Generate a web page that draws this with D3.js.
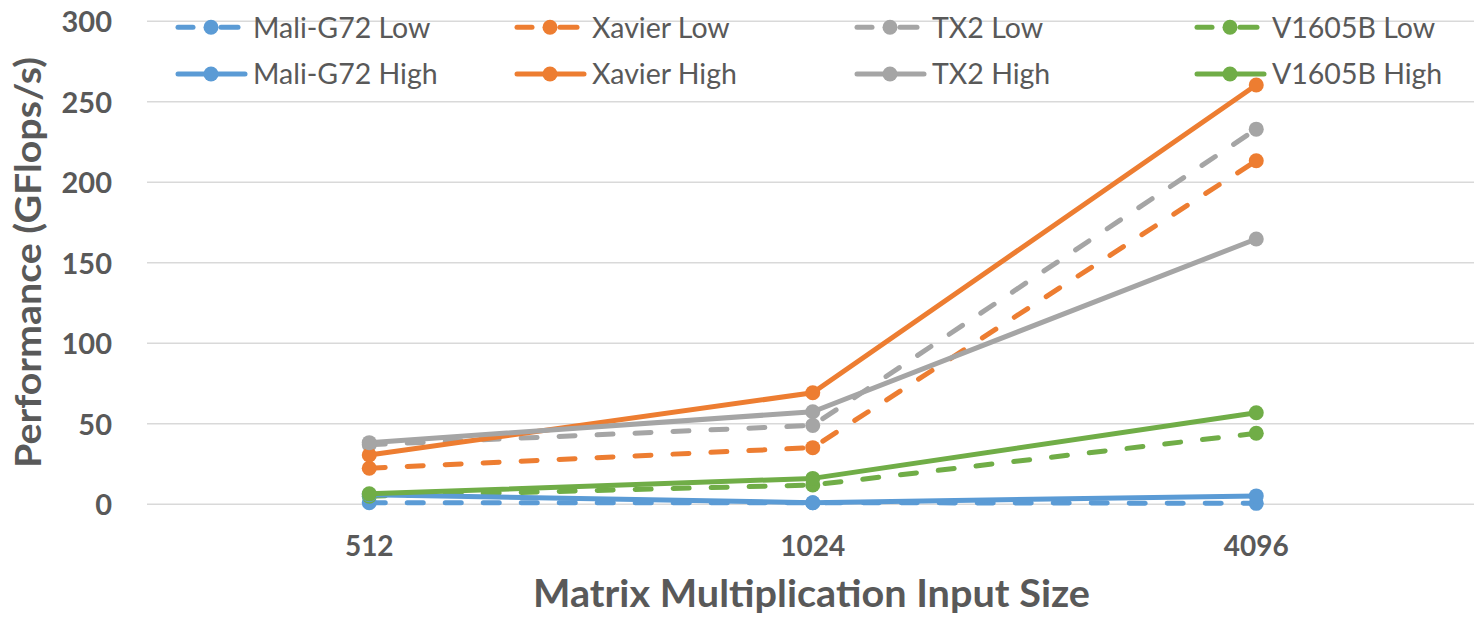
<!DOCTYPE html>
<html><head><meta charset="utf-8">
<script src="https://cdn.jsdelivr.net/npm/d3@7"></script>
<style>body{margin:0;background:#fff}svg{display:block}</style>
</head><body>
<svg id="c" width="1474" height="620"></svg>
<script>
const categories = ["512", "1024", "4096"];
const seriesNames = ["Mali-G72 Low","Xavier Low","TX2 Low","V1605B Low","Mali-G72 High","Xavier High","TX2 High","V1605B High"];
const maliLow = [1, 1, 0.6];
const xavierLow = [22.4, 35.2, 213.4];
const tx2Low = [37, 49, 233];
const v1605bLow = [5, 12, 44.1];
const maliHigh = [6, 1, 5.2];
const xavierHigh = [30.6, 69.3, 260.4];
const tx2High = [38.3, 57.5, 164.8];
const v1605bHigh = [6.5, 16.1, 56.9];
const yTicks = [0, 50, 100, 150, 200, 250, 300];
const colors = ["#5B9BD5","#ED7D31","#A5A5A5","#70AD47","#5B9BD5","#ED7D31","#A5A5A5","#70AD47"];
const dashed = [true,true,true,true,false,false,false,false];
const values = [maliLow, xavierLow, tx2Low, v1605bLow, maliHigh, xavierHigh, tx2High, v1605bHigh];

const svg = d3.select("#c");
const font = "Lato, 'Open Sans', sans-serif";
const x = d3.scaleBand().domain(categories).range([147.5, 1478]).padding(0);
const y = d3.scaleLinear().domain([0, 300]).range([504.3, 21.3]);

// gridlines
svg.append("g").selectAll("line").data(yTicks).join("line")
  .attr("x1", 147).attr("x2", 1474)
  .attr("y1", d => y(d)).attr("y2", d => y(d))
  .attr("stroke", "#d9d9d9").attr("stroke-width", 1.5);

// y tick labels
const yAxis = d3.axisLeft(y).tickValues(yTicks).tickSize(0).tickPadding(0);
const ya = svg.append("g").attr("transform", "translate(112,0)").call(yAxis);
ya.select(".domain").remove();
ya.selectAll("text").attr("font-family", font).attr("font-weight", "bold")
  .attr("font-size", 29).attr("fill", "#595959").attr("dy", "0.36em");

// x tick labels
const xAxis = d3.axisBottom(x).tickSize(0).tickPadding(0);
const xa = svg.append("g").attr("transform", "translate(0,556)").call(xAxis);
xa.select(".domain").remove();
xa.selectAll("text").attr("font-family", font).attr("font-weight", "bold")
  .attr("font-size", 28).attr("fill", "#595959").attr("dy", "0");

// axis titles
svg.append("text").attr("x", 811.5).attr("y", 607).attr("text-anchor", "middle")
  .attr("font-family", font).attr("font-weight", "bold").attr("font-size", 38)
  .attr("textLength", 557).attr("lengthAdjust", "spacingAndGlyphs")
  .attr("fill", "#595959").text("Matrix Multiplication Input Size");
svg.append("text").attr("transform", "translate(41,262.5) rotate(-90)").attr("text-anchor", "middle")
  .attr("font-family", font).attr("font-weight", "bold").attr("font-size", 36)
  .attr("textLength", 411).attr("lengthAdjust", "spacingAndGlyphs")
  .attr("fill", "#595959").text("Performance (GFlops/s)");

const line = d3.line().x((d, i) => x(categories[i]) + x.bandwidth() / 2).y(d => y(d));

values.forEach((vals, s) => {
  const g = svg.append("g");
  g.append("path").attr("d", line(vals)).attr("fill", "none")
    .attr("stroke", colors[s]).attr("stroke-width", 5)
    .attr("stroke-linecap", "round").attr("stroke-linejoin", "round")
    .attr("stroke-dasharray", dashed[s] ? "16,22" : null);
  g.selectAll("circle").data(vals).join("circle")
    .attr("cx", (d, i) => x(categories[i]) + x.bandwidth() / 2)
    .attr("cy", d => y(d)).attr("r", 7.5).attr("fill", colors[s]);
});

// legend
const legX = [176, 515, 855, 1195];
const legY = [27.3, 74];
seriesNames.forEach((name, s) => {
  const col = s % 4, row = Math.floor(s / 4);
  const g = svg.append("g").attr("transform", `translate(${legX[col]},${legY[row]})`);
  if (dashed[s]) {
    g.append("line").attr("x1", 2).attr("x2", 17).attr("y1", 0).attr("y2", 0)
      .attr("stroke", colors[s]).attr("stroke-width", 5).attr("stroke-linecap", "round");
    g.append("line").attr("x1", 45).attr("x2", 62).attr("y1", 0).attr("y2", 0)
      .attr("stroke", colors[s]).attr("stroke-width", 5).attr("stroke-linecap", "round");
  } else {
    g.append("line").attr("x1", 2).attr("x2", 69).attr("y1", 0).attr("y2", 0)
      .attr("stroke", colors[s]).attr("stroke-width", 5).attr("stroke-linecap", "round");
  }
  g.append("circle").attr("cx", 35).attr("cy", 0).attr("r", 7.5).attr("fill", colors[s]);
  g.append("text").attr("x", 77).attr("y", 0).attr("dy", "0.36em")
    .attr("font-family", font).attr("font-size", 28.5).attr("fill", "#595959").text(name);
});
</script>
</body></html>
